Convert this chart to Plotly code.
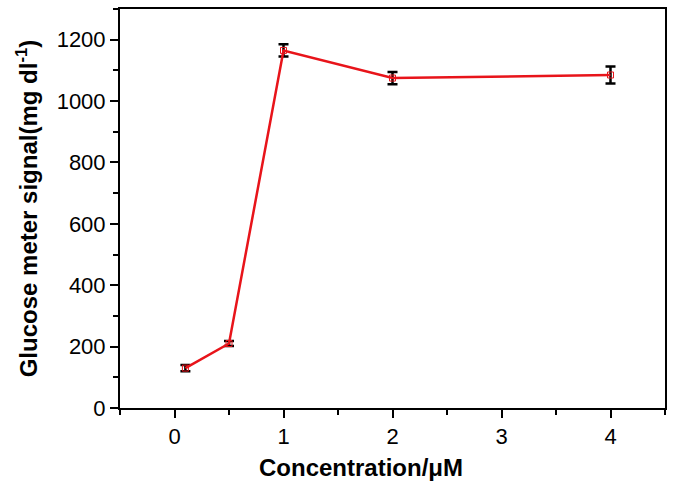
import plotly.graph_objects as go

concentration = [0.1, 0.5, 1, 2, 4]
signal = [130, 210, 1165, 1075, 1085]
signal_err = [10, 8, 20, 20, 28]

x_ticks = [0, 1, 2, 3, 4]
y_ticks = [0, 200, 400, 600, 800, 1000, 1200]

fig = go.Figure()
fig.add_trace(go.Scatter(
	x=concentration,
	y=signal,
	mode='lines+markers',
	line=dict(color='#e8141a', width=2.5),
	marker=dict(symbol='square-open', size=6, color='#e8141a', line=dict(width=1)),
	error_y=dict(type='data', array=signal_err, color='black', thickness=2.5, width=5),
	showlegend=False,
))

font_family = 'Liberation Sans, Arial, sans-serif'
axis_common = dict(
	showline=True, linecolor='black', linewidth=2, mirror=True,
	ticks='outside', ticklen=8, tickwidth=2, tickcolor='black',
	showgrid=False, zeroline=False, automargin=False,
	tickfont=dict(family=font_family, size=22, color='black'),
)

fig.update_xaxes(
	range=[-0.5, 4.5], tickvals=x_ticks,
	minor=dict(ticks='outside', ticklen=5, tickwidth=2, tickcolor='black', dtick=0.5, tick0=0.5),
	**axis_common,
)
fig.update_yaxes(
	range=[0, 1300], tickvals=y_ticks,
	minor=dict(ticks='outside', ticklen=5, tickwidth=2, tickcolor='black', dtick=100, tick0=100),
	title=dict(text='<b>Glucose meter signal(mg dl<sup>-1</sup>)</b>', font=dict(family=font_family, size=24, color='black'), standoff=12),
	**axis_common,
)

# x title sits a bit left of the plot centre in the original
fig.add_annotation(
	text='<b>Concentration/μM</b>', x=1.71, xref='x', y=-0.15, yref='paper',
	xanchor='center', yanchor='middle', showarrow=False,
	font=dict(family=font_family, size=24, color='black'),
)

fig.update_layout(
	width=675, height=488,
	margin=dict(l=120, r=10, t=9, b=80),
	plot_bgcolor='white', paper_bgcolor='white',
)

fig.write_html("out.html", config={'displayModeBar': False},
	post_script="document.body.style.margin='0';")
